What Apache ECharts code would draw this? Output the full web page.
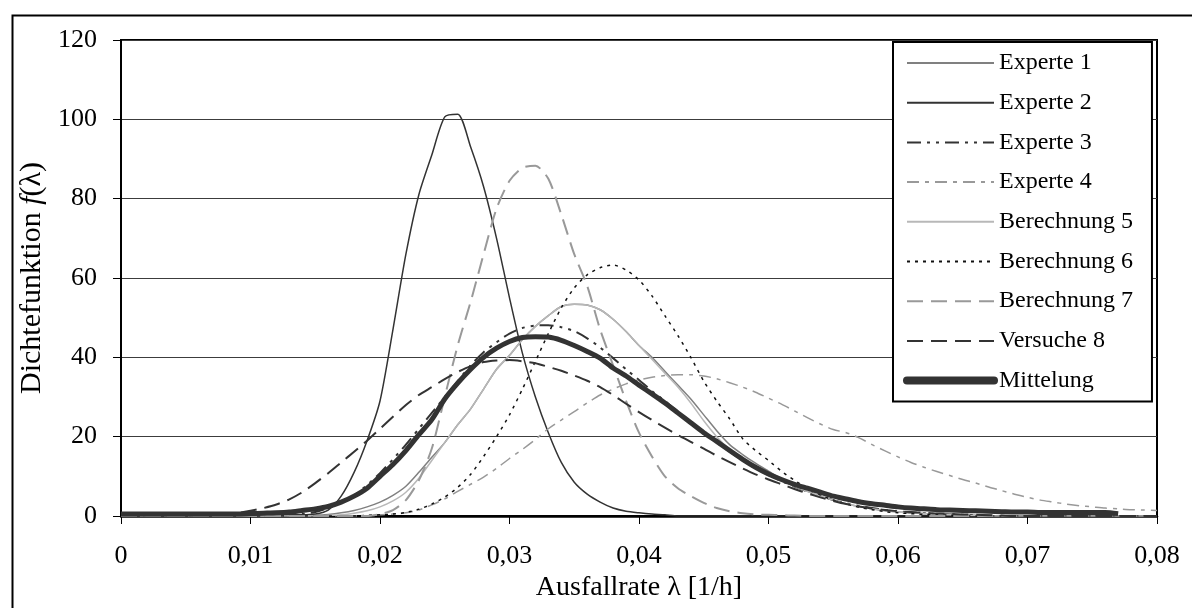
<!DOCTYPE html>
<html>
<head>
<meta charset="utf-8">
<script src="https://cdn.jsdelivr.net/npm/echarts@6/dist/echarts.min.js"></script>
<style>
html,body{margin:0;padding:0;background:#fff;}
#chart{width:1192px;height:608px;}
</style>
</head>
<body>
<div id="chart"></div>
<script>
// x grid (Ausfallrate λ in 1/h)
const lambdaX = [0,0.001,0.002,0.003,0.004,0.005,0.006,0.007,0.008,0.009,
0.010,0.011,0.012,0.013,0.014,0.015,0.016,0.017,0.018,0.019,
0.020,0.021,0.022,0.023,0.024,0.025,0.026,0.027,0.028,0.029,
0.030,0.031,0.032,0.033,0.034,0.035,0.036,0.037,0.038,0.039,
0.040,0.041,0.042,0.043,0.044,0.045,0.046,0.047,0.048,0.049,
0.050,0.051,0.052,0.053,0.054,0.055,0.056,0.057,0.058,0.059,
0.060,0.061,0.062,0.063,0.064,0.065,0.066,0.067,0.068,0.069,
0.070,0.071,0.072,0.073,0.074,0.075,0.076,0.077,0.078,0.079,0.080];

const experte1 = [0,0,0,0,0,0,0,0,0,0,
0,0,0,0,0,0.2,0.4,0.8,1.4,2.3,
3.5,5.2,7.5,11,14.8,18.5,23,27,32,37,
40.5,44.5,47.8,50.5,52.8,53.4,53.2,52,49.6,46.5,
43,40,36.5,33,29.5,25.5,21.5,18,15.5,13.3,
11.3,9.3,7.6,6.2,5,4,3.1,2.4,1.8,1.3,
1,0.8,0.6,0.5,0.4,0.3,0.2,0.1,0,0,
0,0,0,0,0,0,0,0,0,0,0];

const experte2 = [0.3,0.3,0.3,0.3,0.3,0.3,0.3,0.3,0.3,0.3,
0.3,0.3,0.3,0.3,0.3,0.5,1.5,5,11,19,
29,47,66,81,91,100.6,101.3,93,83,70,
55,41,30,21,13.5,8.5,5.5,3.5,2,1.2,
0.8,0.5,0.3,0,0,0,0,0,0,0,
0,0,0,0,0,0,0,0,0,0,
0,0,0,0,0,0,0,0,0,0,
0,0,0,0,0,0,0,0,0,0,0];

const experte3 = [0,0,0,0,0,0,0,0,0,0,
0,0,0,0,0.5,1,2,3.3,5.2,7.8,
10.8,14.3,18,22,26,30,34,38,41.3,43.8,
46,47.4,48,48.1,47.6,46.6,44.8,42.5,39.8,37,
34.3,31.5,29,26.3,23.5,21,18.5,16.2,14,12,
10.3,8.8,7.4,6.2,5,4,3.2,2.5,2,1.5,
1.2,0.9,0.7,0.5,0.4,0.3,0.2,0.1,0,0,
0,0,0,0,0,0,0,0,0,0,0];

const experte4 = [0,0,0,0,0,0,0,0,0,0,
0,0,0,0,0,0,0,0,0,0,
0.3,0.5,0.8,1.5,2.8,4.3,6.2,8,9.8,12,
14.5,16.8,19.3,22,24.2,26.3,28.5,30.5,32,33.3,
34.3,35,35.4,35.6,35.6,35.3,34.6,33.6,32.5,31.2,
29.7,28.2,26.5,24.8,23.2,21.8,21,19.7,18,16.4,
14.9,13.5,12.3,11.2,10.2,9.2,8.3,7.3,6.4,5.5,
4.7,4,3.5,3,2.6,2.3,2,1.8,1.6,1.5,1.4];

const berechnung5 = [0,0,0,0,0,0,0,0,0,0,
0,0,0,0,0,0,0.1,0.3,0.7,1.3,
2.3,3.8,6,9.5,14,18.5,23,27,32,37,
40.5,44.5,47.8,50.5,52.8,53.4,53.2,52,49.6,46.5,
43,39.5,36,32.5,28.5,24,20,16.8,14.5,12.5,
10.8,9,7.5,6.2,5,4,3.1,2.4,1.8,1.4,
1,0.8,0.6,0.4,0.3,0.2,0.1,0,0,0,
0,0,0,0,0,0,0,0,0,0,0];

const berechnung6 = [0,0,0,0,0,0,0,0,0,0,
0,0,0,0,0,0,0,0,0,0.2,
0.3,0.5,0.9,1.7,3,4.8,7.2,10.5,15,20,
25.5,32,39,46,52.5,57.5,60.8,62.6,63.3,62,
59.5,55.5,50.5,45.5,40,34,29,24.5,19.5,16.5,
14,11.3,9,7,5.3,4,3,2.2,1.6,1.1,
0.8,0.6,0.4,0.3,0.2,0.1,0,0,0,0,
0,0,0,0,0,0,0,0,0,0,0];

const berechnung7 = [0,0,0,0,0,0,0,0,0,0,
0,0,0,0,0,0,0,0,0,0,
0.5,1.5,4,9,17,30,43,54,66,77.5,
84.5,87.8,88.3,85,76,66,58,47,38,29,
21,15,10,7,5,3.3,2,1.2,0.7,0.4,
0.3,0.2,0.1,0,0,0,0,0,0,0,
0,0,0,0,0,0,0,0,0,0,
0,0,0,0,0,0,0,0,0,0,0];

const versuche8 = [0.3,0.3,0.3,0.3,0.3,0.3,0.3,0.3,0.5,0.8,
1.3,2,2.9,4.2,6,8.3,10.8,13.5,16.2,19,
22,25,28,30.5,32.5,34.5,36.3,37.8,38.8,39.2,
39.3,39,38.5,37.6,36.6,35.4,34.1,32.5,30.5,28.3,
26.2,24.2,22.3,20.4,18.7,17,15.2,13.6,12,10.5,
9.2,8,6.8,5.7,4.7,3.8,3,2.4,1.9,1.5,
1.2,1,0.8,0.6,0.5,0.4,0.3,0.2,0.1,0,
0,0,0,0,0,0,0,0,0,0,0];

const mittelung = [0.5,0.5,0.5,0.5,0.5,0.5,0.5,0.5,0.5,0.5,
0.6,0.7,0.8,1,1.4,1.8,2.4,3.5,5,7,
10,13,16.5,20.5,24.3,29.5,33.5,37,40,42.3,
44,45,45.2,45.1,44.3,43,41.5,39.8,37.3,35.3,
33,30.8,28.5,26,23.5,21,18.8,16.5,14.3,12.3,
10.6,9.2,8,7,6,5,4.3,3.6,3.1,2.7,
2.3,2,1.8,1.6,1.5,1.4,1.3,1.2,1.1,1,
1,0.9,0.9,0.9,0.9,0.9,0.9,0.6,null,null,null];

const yTicks = [0, 20, 40, 60, 80, 100, 120];
const xTicks = [0, 0.01, 0.02, 0.03, 0.04, 0.05, 0.06, 0.07, 0.08];

const seriesNames = ['Experte 1','Experte 2','Experte 3','Experte 4','Berechnung 5','Berechnung 6','Berechnung 7','Versuche 8','Mittelung'];
const seriesValues = [experte1, experte2, experte3, experte4, berechnung5, berechnung6, berechnung7, versuche8, mittelung];
const seriesStyles = [
  {color:'#808080', width:1.5, type:'solid'},
  {color:'#333333', width:1.5, type:'solid'},
  {color:'#333333', width:2,   type:[14,6,3,6,3,6]},
  {color:'#999999', width:1.5, type:[12,6,4,6]},
  {color:'#b8b8b8', width:1.5, type:'solid'},
  {color:'#111111', width:1.5, type:[3,5]},
  {color:'#999999', width:2,   type:[16,8]},
  {color:'#333333', width:2,   type:[16,8]},
  {color:'#333333', width:5,   type:'solid'}
];

const FONT = '"Liberation Serif", "Times New Roman", serif';

function pairs(vals){
  const out = [];
  for (let i = 0; i < lambdaX.length; i++) out.push([lambdaX[i], vals[i]]);
  return out;
}

const series = seriesNames.map((name, k) => ({
  name: name,
  type: 'line',
  data: pairs(seriesValues[k]),
  symbol: 'none',
  showSymbol: false,
  smooth: 0.25,
  connectNulls: false,
  silent: true,
  animation: false,
  lineStyle: {color: seriesStyles[k].color, width: seriesStyles[k].width, type: seriesStyles[k].type, cap: 'butt', join: 'round'},
  itemStyle: {color: seriesStyles[k].color},
  z: 3 + k
}));

const chart = echarts.init(document.getElementById('chart'), null, {renderer: 'canvas'});
chart.setOption({
  backgroundColor: '#ffffff',
  animation: false,
  textStyle: {fontFamily: FONT, color: '#000'},
  grid: {left: 121, right: 35, top: 40, bottom: 92, show: true, borderColor: '#000', borderWidth: 2, backgroundColor: 'transparent'},
  graphic: [{
    type: 'rect', left: 10, top: 13, z: 0, silent: true,
    shape: {x: 0, y: 0, width: 1300, height: 700},
    style: {fill: 'none', stroke: '#000', lineWidth: 2}
  }],
  legend: {
    orient: 'vertical',
    left: 893, top: 42,
    padding: [9, 19, 9, 10],
    itemWidth: 87, itemHeight: 14, itemGap: 15.7,
    backgroundColor: '#fff', borderColor: '#000', borderWidth: 2, borderRadius: 0,
    itemStyle: {opacity: 0},
    selectedMode: false,
    textStyle: {fontFamily: FONT, fontSize: 24, color: '#000', lineHeight: 24},
    data: seriesNames.map((n, k) => k === 8 ? {name: n, lineStyle: {width: 8, cap: 'round'}} : {name: n}),
    z: 20
  },
  xAxis: {
    type: 'value', min: 0, max: 0.08, interval: 0.01,
    name: 'Ausfallrate λ [1/h]', nameLocation: 'middle', nameGap: 56,
    nameTextStyle: {fontFamily: FONT, fontSize: 28, color: '#000'},
    axisLine: {show: true, onZero: false, lineStyle: {color: '#000', width: 2.5}},
    axisTick: {show: true, length: 8, inside: false, lineStyle: {color: '#000', width: 1}},
    axisLabel: {margin: 27, fontFamily: FONT, fontSize: 26, color: '#000',
      formatter: v => (v === 0 ? '0' : v.toFixed(2).replace('.', ','))},
    splitLine: {show: false}
  },
  yAxis: {
    type: 'value', min: 0, max: 120, interval: 20,
    name: '{a|Dichtefunktion }{i|f}{a|(λ)}', nameLocation: 'middle', nameGap: 66, nameRotate: 90,
    nameTextStyle: {fontFamily: FONT, fontSize: 30, color: '#000',
      rich: {a: {fontFamily: FONT, fontSize: 30, color: '#000'}, i: {fontFamily: FONT, fontSize: 30, fontStyle: 'italic', color: '#000'}}},
    axisLine: {show: true, lineStyle: {color: '#000', width: 2}},
    axisTick: {show: true, length: 8, inside: false, lineStyle: {color: '#000', width: 1}},
    axisLabel: {margin: 24, fontFamily: FONT, fontSize: 26, color: '#000',
      formatter: v => (yTicks.indexOf(v) >= 0 ? String(v) : '')},
    splitLine: {show: true, lineStyle: {color: '#3c3c3c', width: 1}}
  },
  series: series
});
</script>
</body>
</html>
